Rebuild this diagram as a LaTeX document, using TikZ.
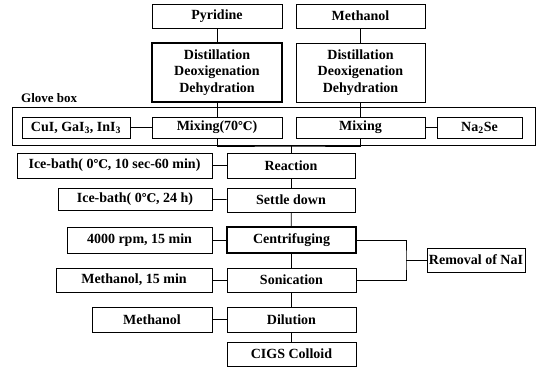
\documentclass[tikz,border=0pt]{standalone}
\usepackage{fontspec}
\setmainfont{Liberation Serif}
\newfontfamily\degfont{DejaVu Serif}
\newcommand{\degC}{{\degfont\fontsize{12}{14}\selectfont ℃}}
\begin{document}
\begin{tikzpicture}[x=1pt,y=-1pt,
  box/.style 2 args={draw,line width=0.9pt,inner sep=0pt,align=center,
    minimum width=#1pt,minimum height=#2pt,
    font=\fontsize{14}{16.5}\selectfont\bfseries},
  heavy/.style={line width=1.8pt},
  conn/.style={line width=0.8pt}]
\useasboundingbox (0,0) rectangle (539,367);
% solvents
\node[box={130}{24}] (pyr) at (217,16) {Pyridine};
\node[box={129}{24}] (meth) at (360.5,16) {Methanol};
\node[box={130}{59},heavy] (dist1) at (217,72.5) {Distillation\\Deoxigenation\\Dehydration};
\node[box={129}{59}] (dist2) at (360.5,72.5) {Distillation\\Deoxigenation\\Dehydration};
% glove box
\draw[conn] (12,107) rectangle (535,145);
\node[anchor=west,inner sep=0pt,font=\fontsize{13}{15}\selectfont\bfseries] (glove) at (21,98) {Glove box};
\node[box={108}{21}] (cui) at (76,127.5) {CuI, GaI\textsubscript{3}, InI\textsubscript{3}};
\node[box={130}{21}] (mix1) at (217,127.5) {Mixing(70\degC)};
\node[box={129}{21}] (mix2) at (360.5,127.5) {Mixing};
\node[box={85}{21}] (nase) at (479.5,127.5) {Na\textsubscript{2}Se};
\coordinate (merge) at (291,146);
% main line
\node[box={128}{25}] (react) at (291,165.5) {Reaction};
\node[box={128}{24}] (settle) at (291,200) {Settle down};
\node[box={129}{26},line width=1.3pt] (cent) at (291.5,240) {Centrifuging};
\node[box={129}{24}] (soni) at (291.5,280) {Sonication};
\node[box={129}{25}] (dil) at (291.5,319.5) {Dilution};
\node[box={129}{24}] (cigs) at (291.5,354) {CIGS Colloid};
% conditions
\node[box={195}{25}] (ice1) at (114.5,165.5) {Ice-bath( 0\degC, 10 sec-60 min)};
\node[box={154}{22}] (ice2) at (135,199) {Ice-bath( 0\degC, 24 h)};
\node[box={145}{26}] (rpm) at (139.5,240) {4000 rpm, 15 min};
\node[box={156}{24}] (meth15) at (134,280) {Methanol, 15 min};
\node[box={120}{25}] (meth3) at (152,319.5) {Methanol};
\node[box={98}{24}] (nai) at (476,260) {Removal of NaI};
\coordinate (brk) at (406,260);
% connectors
\draw[conn] (pyr) -- (dist1);
\draw[conn] (meth) -- (dist2);
\draw[conn] (dist1) -- (mix1);
\draw[conn] (dist2) -- (mix2);
\draw[conn] (cui) -- (mix1);
\draw[conn] (mix2) -- (nase);
\draw[conn] (mix1.south) |- (merge) -| (mix2.south);
\draw[conn] (merge) -- (react.north);
\foreach \a/\b in {react/settle,settle/cent,cent/soni,soni/dil,dil/cigs}
  \draw[conn] (\a) -- (\b);
\foreach \a/\b in {ice1/react,ice2/settle,rpm/cent,meth15/soni,meth3/dil}
  \draw[conn] (\a) -- (\b);
\draw[conn] (cent.east) -| (brk) |- (soni.east);
\draw[conn] (brk) -- (nai);
\end{tikzpicture}
\end{document}
